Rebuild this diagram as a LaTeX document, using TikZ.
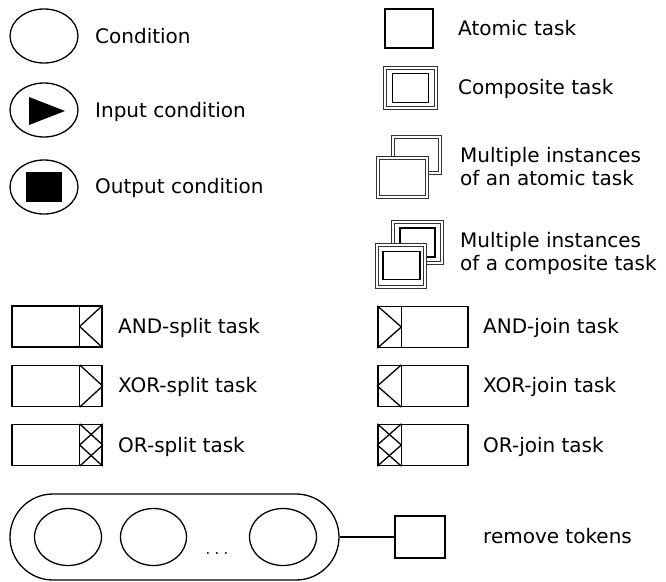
\documentclass[tikz,border=0pt]{standalone}
\usepackage{fontspec}
\setmainfont{DejaVu Sans}
\usetikzlibrary{shapes.geometric,calc}

\begin{document}
\begin{tikzpicture}[x=1pt,y=-1pt,
	lbl/.style={anchor=base west,inner sep=0pt,align=left,font=\fontsize{20}{23}\selectfont},
	cond/.style={draw,ellipse,line width=1.3pt,inner sep=0pt,minimum width=68pt,minimum height=54pt},
	taskbox/.style={draw,rectangle,line width=1.3pt,inner sep=0pt,minimum width=90pt,minimum height=41pt},
	plainbox/.style={draw,rectangle,line width=1.3pt,inner sep=0pt,fill=white},
	dblbox/.style={draw=black!80,double,double distance=1.3pt,line width=1.1pt,inner sep=0pt,fill=white},
	gateline/.style={line width=1.3pt,line join=round}]
	\useasboundingbox (0,0) rectangle (666,581);
	% conditions
	\node[cond] (cond) at (44,36) {};
	\node[cond] (incond) at (44,110) {};
	\node[cond] (outcond) at (44,187) {};
	\fill ($(incond)+(-15,-13)$) -- ($(incond)+(21,1)$) -- ($(incond)+(-15,15)$) -- cycle;
	\fill ($(outcond)+(-18,-15)$) rectangle ($(outcond)+(18,15)$);
	\node[lbl] (lcond) at (95,43) {Condition};
	\node[lbl] (lincond) at (95,117) {Input condition};
	\node[lbl] (loutcond) at (95,193) {Output condition};
	% tasks
	\node[plainbox, line width=2.4pt, minimum width=48pt, minimum height=39pt] (atomic) at (409,28.5) {};
	\node[dblbox, minimum width=51pt, minimum height=40pt] (comp) at (410.5,88) {};
	\node[plainbox, minimum width=36pt, minimum height=29pt] (compin) at (comp) {};
	\node[dblbox, minimum width=47pt, minimum height=36pt] (multiback) at (416.5,155) {};
	\node[dblbox, minimum width=49pt, minimum height=39pt] (multifront) at (402.5,177.5) {};
	\node[dblbox, minimum width=49pt, minimum height=41pt] (mcompback) at (417.5,242.5) {};
	\node[plainbox, minimum width=35pt, minimum height=29pt] (mcompbackin) at (mcompback) {};
	\node[dblbox, minimum width=48pt, minimum height=42pt] (mcompfront) at (401,266) {};
	\node[plainbox, minimum width=37pt, minimum height=28pt] (mcompfrontin) at (401.5,265.5) {};
	\node[lbl] (latomic) at (458,35) {Atomic task};
	\node[lbl] (lcomp) at (458,94) {Composite task};
	\node[lbl] (lmulti) at (460,185) {Multiple instances\\of an atomic task};
	\node[lbl] (lmcomp) at (460,270) {Multiple instances\\of a composite task};
	% splits
	\node[taskbox] (andsplit) at (57,326.5) {};
	\node[taskbox] (xorsplit) at (57,386) {};
	\node[taskbox] (orsplit) at (57,445) {};
	\foreach \t in {andsplit,xorsplit,orsplit}
		\draw[gateline] ($(\t.north east)+(-23,0)$) -- ($(\t.south east)+(-23,0)$);
	\draw[gateline] (andsplit.north east) -- ($(andsplit.east)+(-23,0)$) -- (andsplit.south east);
	\draw[gateline] ($(xorsplit.north east)+(-23,0)$) -- (xorsplit.east) -- ($(xorsplit.south east)+(-23,0)$);
	\draw[gateline] (orsplit.north east) -- ($(orsplit.east)+(-23,0)$) -- (orsplit.south east);
	\draw[gateline] ($(orsplit.north east)+(-23,0)$) -- (orsplit.east) -- ($(orsplit.south east)+(-23,0)$);
	\node[lbl] (landsplit) at (118,333) {AND-split task};
	\node[lbl] (lxorsplit) at (118,392) {XOR-split task};
	\node[lbl] (lorsplit) at (118,452) {OR-split task};
	% joins
	\node[taskbox] (andjoin) at (423,327) {};
	\node[taskbox] (xorjoin) at (423,386) {};
	\node[taskbox] (orjoin) at (423,445) {};
	\foreach \t in {andjoin,xorjoin,orjoin}
		\draw[gateline] ($(\t.north west)+(24,0)$) -- ($(\t.south west)+(24,0)$);
	\draw[gateline] (andjoin.north west) -- ($(andjoin.west)+(24,0)$) -- (andjoin.south west);
	\draw[gateline] ($(xorjoin.north west)+(24,0)$) -- (xorjoin.west) -- ($(xorjoin.south west)+(24,0)$);
	\draw[gateline] (orjoin.north west) -- ($(orjoin.west)+(24,0)$) -- (orjoin.south west);
	\draw[gateline] ($(orjoin.north west)+(24,0)$) -- (orjoin.west) -- ($(orjoin.south west)+(24,0)$);
	\node[lbl] (landjoin) at (483,333) {AND-join task};
	\node[lbl] (lxorjoin) at (483,392) {XOR-join task};
	\node[lbl] (lorjoin) at (483,452) {OR-join task};
	% remove tokens
	\node[draw, line width=1.3pt, rounded corners=43pt, minimum width=329pt, minimum height=86pt] (tokens) at (174.5,537) {};
	\node[cond, minimum width=67pt, minimum height=57pt] (c1) at (68,537) {};
	\node[cond, minimum width=66pt, minimum height=57pt] (c2) at (153.5,537) {};
	\node[cond, minimum width=67pt, minimum height=57pt] (c3) at (283,537) {};
	\node[inner sep=0pt, font=\fontsize{20}{20}\selectfont] (dots) at (217,553) {$\ldots$};
	\node[plainbox, minimum width=50pt, minimum height=42pt] (rem) at (420,537) {};
	\draw[line width=1.3pt] (tokens.east) -- (rem.west);
	\node[lbl] (lrem) at (483,543) {remove tokens};
\end{tikzpicture}
\end{document}
